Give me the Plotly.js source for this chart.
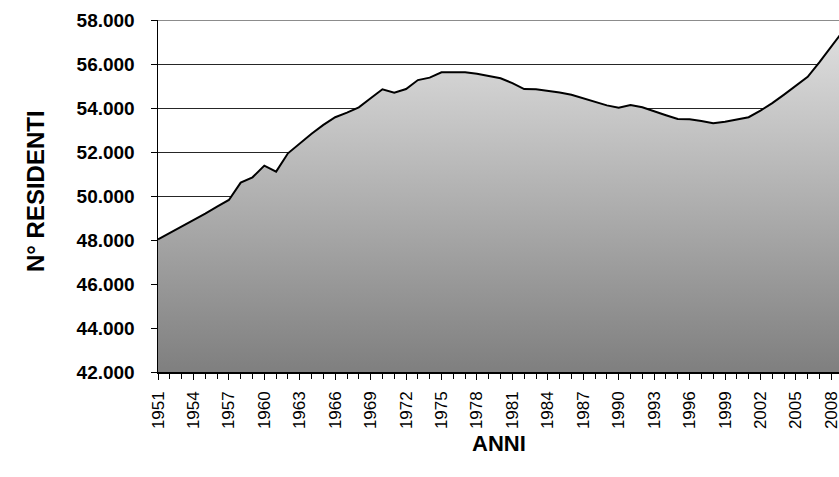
<!DOCTYPE html>
<html>
<head>
<meta charset="utf-8">
<script src="https://cdn.plot.ly/plotly-3.0.1.min.js"></script>
<style>
html,body{margin:0;padding:0;background:#fff;overflow:hidden;}
#chart{width:839px;height:477px;}
</style>
</head>
<body>
<div id="chart"></div>
<script>
const years = [1951,1952,1953,1954,1955,1956,1957,1958,1959,1960,
  1961,1962,1963,1964,1965,1966,1967,1968,1969,1970,
  1971,1972,1973,1974,1975,1976,1977,1978,1979,1980,
  1981,1982,1983,1984,1985,1986,1987,1988,1989,1990,
  1991,1992,1993,1994,1995,1996,1997,1998,1999,2000,
  2001,2002,2003,2004,2005,2006,2007,2008,2009];
const residents = [48030,48320,48620,48910,49200,49520,49820,50610,50850,51380,
  51110,51940,52390,52830,53230,53580,53790,54030,54440,54850,
  54700,54860,55270,55380,55620,55630,55620,55560,55440,55350,
  55130,54860,54850,54780,54700,54600,54430,54270,54120,54010,
  54130,54030,53840,53670,53500,53490,53410,53310,53380,53470,
  53580,53880,54220,54610,55010,55420,56090,56800,57500];
const yTicks = [42000,44000,46000,48000,50000,52000,54000,56000,58000];
const xLabelYears = years.filter(y => (y - 1951) % 3 === 0);
const xTitle = 'ANNI';
const yTitle = 'N° RESIDENTI';

const trace = {
  x: years, y: residents, type: 'scatter', mode: 'lines',
  line: {color: '#000000', width: 2},
  fill: 'tozeroy',
  fillgradient: {type: 'vertical', start: 42000, stop: 58000,
    colorscale: [[0, '#7f7f7f'], [1, '#e2e2e2']]},
  hoverinfo: 'x+y'
};

const layout = {
  width: 839, height: 477,
  margin: {l: 158, r: 0, t: 20, b: 105},
  paper_bgcolor: '#ffffff', plot_bgcolor: '#ffffff',
  showlegend: false,
  font: {family: 'Liberation Sans', color: '#000'},
  xaxis: {
    range: [1951, 2008.65],
    tickmode: 'array', tickvals: xLabelYears,
    ticktext: xLabelYears.map(String),
    tickangle: -90,
    ticks: 'outside', ticklen: 6, tickcolor: '#000', tickwidth: 1,
    tickfont: {size: 17, family: 'Liberation Sans', color: '#000'},
    ticklabeloverflow: 'allow',
    ticklabelstandoff: 5,
    showline: true, linecolor: '#000', linewidth: 1.5,
    showgrid: false, zeroline: false,
    fixedrange: true
  },
  xaxis2: {
    overlaying: 'x', matches: 'x', range: [1951, 2008.65],
    dtick: 1, tick0: 1951, ticks: 'outside', ticklen: 6, tickcolor: '#000',
    showticklabels: false, showgrid: false, zeroline: false, showline: false,
    anchor: 'y', side: 'bottom', fixedrange: true
  },
  yaxis: {
    range: [42000, 58000],
    tickmode: 'array', tickvals: yTicks,
    ticktext: yTicks.map(v => (v/1000).toFixed(0) + '.000'),
    ticks: 'outside', ticklen: 6, tickcolor: '#000',
    tickfont: {size: 19, family: 'Liberation Sans', weight: 'bold', color: '#000'},
    ticklabelstandoff: 12,
    showline: true, linecolor: '#000', linewidth: 1.5,
    showgrid: true, gridcolor: '#262626', gridwidth: 1,
    zeroline: false,
    fixedrange: true
  },
  shapes: [
    {type: 'line', xref: 'paper', yref: 'y', x0: 0, x1: 1, y0: 58000, y1: 58000,
     line: {color: '#8c8c8c', width: 2}}
  ],
  annotations: [
    {text: xTitle, xref: 'paper', yref: 'paper', x: 0.5, y: 0, yshift: -71,
     showarrow: false, font: {size: 22, weight: 'bold'}, xanchor: 'center', yanchor: 'middle'},
    {text: yTitle, xref: 'paper', yref: 'paper', x: 0, xshift: -123, y: 0.5, yshift: 5,
     textangle: -90, showarrow: false, font: {size: 24, weight: 'bold'}, xanchor: 'center', yanchor: 'middle'}
  ]
};

const tickTrace = {x: [1951], y: [42000], xaxis: 'x2', yaxis: 'y', type: 'scatter', mode: 'none', hoverinfo: 'skip', showlegend: false};

Plotly.newPlot('chart', [trace, tickTrace], layout, {displayModeBar: false, staticPlot: true});
</script>
</body>
</html>
